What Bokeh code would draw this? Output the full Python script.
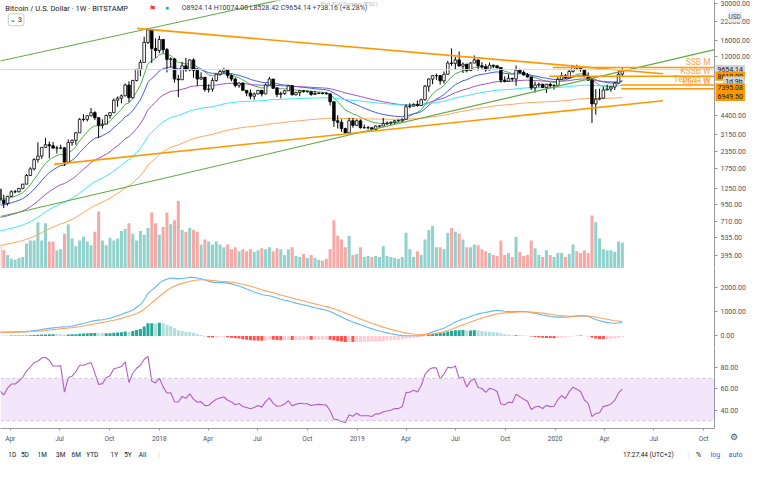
import pandas as pd
from bokeh.plotting import figure
from bokeh.layouts import column
from bokeh.models import (ColumnDataSource, Range1d, LinearScale, FixedTicker, Label,
                          Span, NumeralTickFormatter, BoxAnnotation, GridBox)
from bokeh.embed import file_html
from bokeh.resources import INLINE

# ---------------------------------------------------------------- data
first_week = "2017-03-13"          # Monday of the first visible weekly candle
week_high = [1260, 1120, 1100, 1210, 1215, 1260, 1350, 1600, 1800, 2100,
             2760, 2550, 2980, 2800, 2780, 2600, 2650, 2550, 2900, 2900,
             3300, 4200, 4480, 4380, 4980, 4720, 4250, 4100, 4450, 4620,
             5860, 6070, 6290, 7600, 7900, 8100, 9700, 11400, 17000, 19700,
             19100, 16500, 17250, 16300, 14000, 11900, 11800, 8800, 11000, 11800,
             11500, 11700, 9900, 9200, 8500, 7500, 8400, 9000, 9750, 9950,
             9650, 8900, 8400, 7750, 7760, 6800, 6850, 6500, 6800, 6800,
             7600, 8500, 8200, 7150, 6600, 6800, 7400, 7400, 6600, 6800,
             6800, 6700, 6700, 6700, 6500, 6500, 6550, 6400, 5600, 4400,
             4100, 3550, 4200, 4200, 4100, 4100, 3750, 3650, 3560, 3700,
             3700, 4200, 3950, 3950, 4050, 4100, 4150, 5300, 5400, 5400,
             5650, 5850, 7400, 8300, 8800, 9000, 8800, 9350, 11200, 13880,
             12000, 13200, 10900, 10600, 11000, 12300, 11450, 10950, 10600, 10900,
             10500, 10300, 10000, 8600, 8900, 8400, 10350, 9800, 9500, 9100,
             8500, 7850, 7700, 7500, 7550, 7700, 7500, 8450, 9200, 8950,
             9600, 10200, 10500, 10250, 9700, 9200, 8200, 6900, 6950, 7200,
             7450, 7300, 7800, 9450, 10074.00]
week_low = [960, 890, 930, 1080, 1150, 1165, 1230, 1340, 1550, 1700,
            1950, 2080, 2520, 2100, 2480, 2280, 2450, 1840, 1950, 2600,
            2650, 3250, 3950, 3950, 4310, 4050, 2970, 3500, 3760, 4150,
            4600, 5100, 5400, 6100, 5500, 5850, 7900, 8600, 10900, 15000,
            10800, 11800, 12800, 12750, 9200, 10000, 7700, 6000, 8100, 9300,
            9400, 8400, 7300, 8100, 6600, 6500, 6600, 7850, 8700, 9000,
            8300, 7900, 7100, 7050, 6700, 6100, 5800, 5750, 6300, 6080,
            6300, 7400, 6900, 6000, 5880, 6250, 6700, 6200, 6200, 6100,
            6500, 6500, 6150, 6300, 6400, 6300, 6300, 5200, 3600, 3500,
            3300, 3200, 3250, 3550, 3650, 3500, 3500, 3450, 3350, 3400,
            3550, 3650, 3700, 3700, 3800, 3950, 3950, 4100, 4950, 5100,
            5100, 5200, 5650, 6600, 7500, 8100, 7450, 7600, 8900, 10300,
            9650, 10200, 9100, 9200, 9400, 10800, 9500, 9800, 9300, 9550,
            9900, 9800, 7700, 7750, 7800, 7900, 7300, 9000, 8700, 8400,
            6800, 6500, 7100, 7050, 6450, 7050, 6850, 7350, 8100, 8250,
            8300, 9150, 9700, 9300, 8450, 8000, 3850, 4450, 5700, 5850,
            6750, 6600, 6800, 7600, 8528.42]
week_close = [1020, 965, 1090, 1180, 1180, 1250, 1345, 1560, 1750, 2050,
              2180, 2530, 2650, 2600, 2500, 2500, 2510, 1960, 2750, 2860,
              3250, 4100, 4100, 4360, 4600, 4220, 3700, 3780, 4380, 4600,
              5700, 5900, 6140, 7400, 5950, 8000, 9700, 10900, 15400, 19100,
              13900, 13400, 16200, 13600, 11500, 11600, 8200, 8100, 10300, 9600,
              11400, 9500, 8200, 8450, 6850, 6900, 8000, 8900, 9350, 9650,
              8700, 8200, 7350, 7650, 6750, 6450, 6100, 6350, 6750, 6350,
              7400, 8200, 7000, 6300, 6400, 6700, 7300, 6250, 6500, 6700,
              6600, 6600, 6300, 6400, 6450, 6400, 6350, 5550, 4000, 3900,
              3500, 3250, 4000, 3700, 4000, 3550, 3550, 3550, 3450, 3650,
              3650, 3800, 3850, 3900, 4000, 4000, 4100, 5100, 5150, 5300,
              5200, 5750, 7250, 8200, 8700, 8700, 7950, 8900, 10800, 10750,
              11400, 10250, 10600, 9500, 10800, 11400, 10300, 10150, 9600, 10400,
              10300, 10000, 8050, 7900, 8300, 8200, 9550, 9200, 8800, 8500,
              7050, 7400, 7500, 7100, 7500, 7300, 7350, 8150, 8700, 8350,
              9350, 10150, 9900, 9650, 8550, 8050, 5350, 5800, 5900, 6800,
              6900, 7150, 7650, 8924.14, 9654.14]
volume = [24, 19, 14, 10, 9, 11, 12, 26, 29, 29,
          48, 29, 47, 28, 28, 19, 20, 36, 46, 31,
          23, 29, 33, 28, 24, 38, 59, 29, 24, 32,
          29, 31, 39, 41, 47, 36, 29, 39, 35, 42,
          58, 47, 35, 43, 58, 46, 50, 70, 40, 38,
          42, 40, 38, 25, 30, 28, 25, 28, 25, 22,
          25, 20, 22, 18, 20, 18, 20, 17, 19, 21,
          20, 22, 18, 21, 20, 14, 20, 22, 13, 12,
          15, 11, 14, 11, 9, 8, 10, 20, 50, 34,
          30, 22, 34, 14, 15, 22, 12, 13, 12, 13,
          12, 23, 13, 12, 11, 10, 12, 37, 20, 12,
          18, 14, 30, 40, 44, 22, 22, 20, 37, 42,
          38, 36, 30, 22, 22, 25, 24, 20, 18, 16,
          14, 13, 29, 14, 16, 12, 33, 17, 13, 14,
          29, 21, 14, 12, 19, 14, 12, 16, 16, 12,
          15, 25, 18, 16, 19, 16, 55, 48, 31, 20,
          19, 19, 17, 28, 27]
# weekly closes before the visible window (indicator history)
warmup_start = "2015-01-05"
warmup_close = [270, 210, 255, 225, 225, 235, 245, 255, 275, 285, 260, 250, 255,
                235, 225, 230, 240, 240, 237, 240, 230, 225, 233, 245, 250, 270,
                290, 275, 290, 282, 265, 260, 230, 230, 240, 230, 230, 235, 240,
                245, 265, 285, 325, 380, 330, 320, 360, 390, 435, 440, 420, 430,
                450, 385, 395, 378, 375, 400, 420, 435, 410, 412, 410, 416, 420,
                420, 427, 450, 455, 460, 455, 442, 470, 575, 585, 740, 665, 675,
                650, 665, 655, 625, 590, 585, 580, 575, 605, 610, 608, 605, 610,
                615, 640, 655, 700, 705, 700, 740, 735, 765, 775, 790, 895, 960,
                905, 820, 920, 920, 1010, 1000, 1050, 1170, 1270, 1230]

x_start, x_end = "2017-03-14", "2020-10-21"
tick_dates = ["2017-04-01", "2017-07-01", "2017-10-01", "2018-01-01", "2018-04-01",
              "2018-07-01", "2018-10-01", "2019-01-01", "2019-04-01", "2019-07-01",
              "2019-10-01", "2020-01-01", "2020-04-01", "2020-07-01", "2020-10-01"]
tick_labels = ["Apr", "Jul", "Oct", "2018", "Apr", "Jul", "Oct", "2019", "Apr", "Jul",
               "Oct", "2020", "Apr", "Jul", "Oct"]
price_ticks = [30000, 22000, 16000, 12000, 4400, 3150, 2350, 1750, 1250, 950, 710, 535, 395]
macd_ticks = [0, 1000, 2000]
rsi_ticks = [40, 60, 80]
ema_lengths = [10, 21, 50, 100, 200]
ema_colors = ["#4caf50", "#3f5bf0", "#a052c0", "#3ee6f4", "#ffa55a"]
macd_fast, macd_slow, macd_signal = 50, 100, 9
rsi_length = 14

green_upper_dates = ["2017-02-06", "2018-10-28"]
green_upper_prices = [10410, 37400]
green_lower_dates = ["2017-03-14", "2020-10-21"]
green_lower_prices = [771, 13600]
orange_down_dates = ["2017-11-21", "2020-07-18"]
orange_down_prices = [19600, 8980]
orange_up_dates = ["2017-06-21", "2020-07-18"]
orange_up_prices = [1888, 5650]

level_names = ["SSB M", "KSSB W", "Tenkan W", "Kijun W"]
level_prices = [10000, 8610, 7395.08, 6949.50]
level_start = ["2019-12-28", "2019-12-21", "2020-05-02", "2020-05-02"]

# ---------------------------------------------------------------- layout constants
FW, RB = 714, 38
H1, H2, H3, BB = 268, 80, 80, 36
TOTAL_W, TOTAL_H = FW + RB, H1 + H2 + H3 + BB
FONT = "Roboto"
AXC = "#9598a1"
TXT = "#4c525e"
DAY = 86400000


def cx(xr_):
    return xr_ * FW / 733 if xr_ <= 733 else FW + (xr_ - 733) * RB / 35


def cy1(yr):
    return yr * H1 / 278


def oy(yr):
    if yr <= 278:
        return yr * H1 / 278
    if yr <= 361:
        return H1 + (yr - 278) * H2 / 83
    if yr <= 444:
        return H1 + H2 + (yr - 361) * H3 / 83
    return H1 + H2 + H3 + (yr - 444) * BB / 36


def lab(p, x, y, text, size="7px", color=TXT, align="left", **kw):
    p.add_layout(Label(x=x, y=y, x_units="canvas", y_units="canvas", text=text,
                       text_font=FONT, text_font_size=size, text_color=color,
                       text_align=align, text_baseline="middle", **kw))


# ---------------------------------------------------------------- derived series
dates = pd.date_range(first_week, periods=len(week_close), freq="7D")
wdates = pd.date_range(warmup_start, periods=len(warmup_close), freq="7D")
n0 = len(warmup_close)
opens = [warmup_close[-1]] + week_close[:-1]
closes_all = pd.Series(warmup_close + week_close, index=wdates.append(dates))
is_up = [c >= o for o, c in zip(opens, week_close)]

src = ColumnDataSource(dict(
    x=dates, h=week_high, l=week_low,
    top=[max(o, c) for o, c in zip(opens, week_close)],
    bot=[min(o, c) for o, c in zip(opens, week_close)],
    fill=["white" if u else "black" for u in is_up],
    vol=volume, vcol=["#26a69a" if u else "#ef5350" for u in is_up]))

xr = Range1d(pd.Timestamp(x_start), pd.Timestamp(x_end))
common = dict(frame_width=FW, x_range=xr, x_axis_type="datetime", output_backend="svg",
              toolbar_location=None, min_border_left=0, min_border_right=RB,
              min_border_top=0, y_axis_location="right",
              background_fill_color="white", border_fill_color="white")


def style(p, ticks, fmt="0.00"):
    p.xgrid.visible = False
    p.ygrid.visible = False
    p.outline_line_color = None
    ya = p.yaxis[0]
    ya.ticker = FixedTicker(ticks=ticks)
    ya.formatter = NumeralTickFormatter(format=fmt)
    ya.minor_tick_line_color = None
    ya.major_tick_in = 0
    ya.major_tick_out = 3
    ya.major_tick_line_color = AXC
    ya.axis_line_color = AXC
    ya.major_label_text_font = FONT
    ya.major_label_text_font_size = "7px"
    ya.major_label_text_color = TXT
    ya.major_label_standoff = 3


def sep_axis(p):
    xa = p.xaxis[0]
    xa.ticker = FixedTicker(ticks=[])
    xa.major_label_text_font_size = "0px"
    xa.major_tick_line_color = None
    xa.minor_tick_line_color = None
    xa.major_label_standoff = 0
    xa.axis_line_color = AXC


# ---------------------------------------------------------------- main pane
p1 = figure(frame_height=H1, y_axis_type="log", y_range=Range1d(315, 31680),
            min_border_bottom=0, **common)
style(p1, price_ticks)
sep_axis(p1)
p1.extra_y_ranges = {"vol": Range1d(0, 278)}
p1.extra_y_scales = {"vol": LinearScale()}
p1.vbar(x="x", width=5.6 * DAY, top="vol", bottom=0, fill_color="vcol", fill_alpha=0.5,
        line_color=None, y_range_name="vol", source=src)

emas = {}
for n, col in zip(ema_lengths, ema_colors):
    emas[n] = closes_all.ewm(span=n, adjust=False).mean()
    p1.line(dates, emas[n].iloc[n0:].values, line_color=col, line_width=1)

p1.add_layout(Span(location=week_close[-1], dimension="width", line_color="#d6d8dd",
                   line_width=1))

p1.segment(x0="x", y0="h", x1="x", y1="l", source=src, line_color="black", line_width=1)
p1.vbar(x="x", width=4.8 * DAY, top="top", bottom="bot", fill_color="fill",
        line_color="black", line_width=0.8, source=src)

for d, pr, col, w in [(green_upper_dates, green_upper_prices, "#62a843", 1.1),
                      (green_lower_dates, green_lower_prices, "#62a843", 1.1),
                      (orange_down_dates, orange_down_prices, "#ff9800", 1.6),
                      (orange_up_dates, orange_up_prices, "#ff9800", 1.6)]:
    p1.line(pd.to_datetime(d), pr, line_color=col, line_width=w)

p1.segment(x0=pd.to_datetime(level_start), x1=[pd.Timestamp(x_end)] * len(level_prices),
           y0=level_prices, y1=level_prices, line_color="#ff9800", line_width=1.5)
for name, yy in zip(level_names, [64, 73.5, 81, 84.5]):
    lab(p1, cx(729), cy1(yy), name, size="8.5px", color="#ffa63f", align="right")

# header
lab(p1, cx(5), cy1(8), "Bitcoin / U.S. Dollar · 1W · BITSTAMP", size="7.5px", color="#131722")
lab(p1, cx(152), cy1(8), "⚑", size="8px", color="#f23645")
lab(p1, cx(169), cy1(8), "●", size="7px", color="#26a69a")
lab(p1, cx(186), cy1(8), "O8924.14  H10074.00  L8528.42  C9654.14  +738.16 (+8.28%)",
    size="7px", color="#333a47")
lab(p1, cx(8), cy1(20), "⌄ 3", size="7px", color="#131722",
    background_fill_color="white", border_line_color="#c9ccd3", padding=2, border_radius=2)
lab(p1, cx(358), cy1(3), "Exit Full Screen (ESC)", size="6px", color="#b5b8bf", align="center")

# ---------------------------------------------------------------- MACD pane
e_fast = closes_all.ewm(span=macd_fast, adjust=False).mean()
e_slow = closes_all.ewm(span=macd_slow, adjust=False).mean()
macd = e_fast - e_slow
signal = macd.ewm(span=macd_signal, adjust=False).mean()
hist = macd - signal
prev = hist.shift(1)
hcol = []
for hv, pv in zip(hist, prev):
    if hv >= 0:
        hcol.append("#26a69a" if hv > pv else "#b2dfdb")
    else:
        hcol.append("#ff5252" if hv < pv else "#ffcdd2")

p2 = figure(frame_height=H2, y_range=Range1d(-520, 2800), min_border_bottom=0, **common)
style(p2, macd_ticks)
sep_axis(p2)
p2.vbar(x=dates, width=5.6 * DAY, top=hist.iloc[n0:].values, bottom=0,
        fill_color=hcol[n0:], line_color=None)
p2.line(dates, macd.iloc[n0:].values, line_color="#5fb8f4", line_width=1.1)
p2.line(dates, signal.iloc[n0:].values, line_color="#ffa35c", line_width=1.1)

# ---------------------------------------------------------------- RSI pane
delta = closes_all.diff()
gain = delta.clip(lower=0).ewm(alpha=1 / rsi_length, adjust=False).mean()
loss = (-delta).clip(lower=0).ewm(alpha=1 / rsi_length, adjust=False).mean()
rsi = 100 - 100 / (1 + gain / loss)

p3 = figure(frame_height=H3, y_range=Range1d(22.7, 98.2), min_border_bottom=BB, **common)
style(p3, rsi_ticks)
p3.add_layout(BoxAnnotation(bottom=30, top=70, fill_color="#f3e6fb", fill_alpha=1,
                            line_color=None, level="underlay"))
for lv in (30, 70):
    p3.add_layout(Span(location=lv, dimension="width", line_color="#c6c6cc",
                       line_dash="3 3", line_width=1))
p3.line(dates, rsi.iloc[n0:].values, line_color="#b05fc9", line_width=1.1)

xa = p3.xaxis[0]
tick_ms = [float(pd.Timestamp(t).value // 10**6) for t in tick_dates]
xa.ticker = FixedTicker(ticks=tick_ms)
xa.major_label_overrides = {t: s for t, s in zip(tick_ms, tick_labels)}
xa.minor_tick_line_color = None
xa.major_tick_in = 0
xa.major_tick_out = 2
xa.major_tick_line_color = AXC
xa.axis_line_color = AXC
xa.major_label_text_font = FONT
xa.major_label_text_font_size = "6.5px"
xa.major_label_text_color = TXT
xa.major_label_standoff = 4

# ---------------------------------------------------------------- overlay (texts outside the panes)
ov = figure(frame_width=TOTAL_W, frame_height=TOTAL_H, x_range=Range1d(0, 1),
            y_range=Range1d(0, 1), x_axis_location=None, y_axis_location=None,
            toolbar_location=None, output_backend="svg", min_border=0,
            background_fill_color=None, border_fill_color=None, outline_line_color=None)
ov.xgrid.visible = False
ov.ygrid.visible = False

lab(ov, cx(745), oy(17), "USD", size="6.5px", color="#434651",
    background_fill_color="#e9ecf2", padding=1)
lab(ov, FW + 1, oy(71.5), "9654.14", size="7px", color="#131722",
    background_fill_color="#d1d4dc", padding=2)
lab(ov, FW + 1, oy(78.5), "8610.00", size="7px", color="#131722",
    background_fill_color="#ff9800", padding=2)
lab(ov, cx(741), oy(85), "1d 9h", size="7px", color="#131722",
    background_fill_color="#d1d4dc", padding=2)
lab(ov, FW + 1, oy(90.5), "7395.08", size="7px", color="#131722",
    background_fill_color="#ff9800", padding=2)
lab(ov, FW + 1, oy(99.5), "6949.50", size="7px", color="#131722",
    background_fill_color="#ff9800", padding=2)

yb = oy(470)
for txt, xx in [("1D", 8), ("5D", 21), ("1M", 38), ("3M", 57), ("6M", 73), ("YTD", 88),
                ("1Y", 113), ("5Y", 127), ("All", 142)]:
    lab(ov, cx(xx), yb, txt, size="6.5px", color="#131722")
lab(ov, cx(162), yb, "|", size="8px", color="#d8dbe0")
lab(ov, cx(639), yb, "17:27:44 (UTC+2)", size="6.5px", color="#131722")
lab(ov, cx(705), yb, "|", size="8px", color="#d8dbe0")
lab(ov, cx(714), yb, "%", size="7px", color="#131722")
lab(ov, cx(729), yb, "log", size="7px", color="#2962ff")
lab(ov, cx(746), yb, "auto", size="7px", color="#2962ff")
lab(ov, cx(751), oy(452), "⚙", size="9px", color="#4c525e", align="center")

charts = column(p1, p2, p3, spacing=0)
layout = GridBox(children=[(charts, 0, 0), (ov, 0, 0)])
open("out.html", "w").write(file_html(layout, INLINE))
